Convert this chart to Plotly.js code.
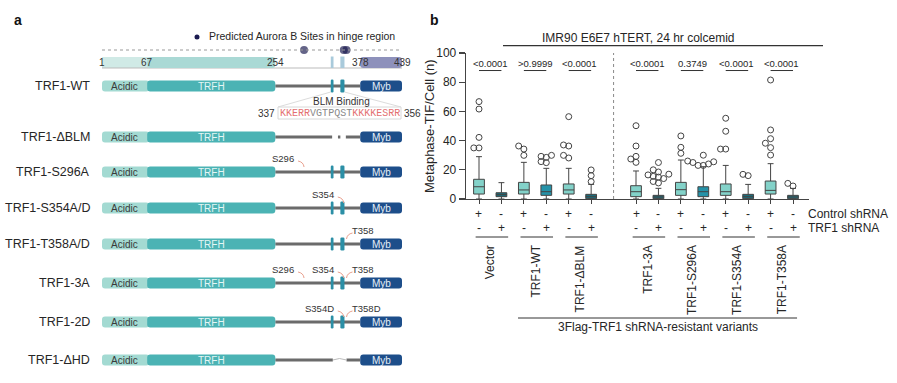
<!DOCTYPE html>
<html><head><meta charset="utf-8">
<script src="https://cdn.plot.ly/plotly-3.0.1.min.js"></script>
<style>html,body{margin:0;padding:0;background:#fff}</style>
</head><body><div id="chart" style="width:897px;height:383px"></div>
<script>
// ================= DATA =================
// ---- Panel a: TRF1 constructs ----
const proteinLength = 439;
const rulerTicks = [1, 67, 254, 378, 439];
const domainNames = ["Acidic", "TRFH", "Myb"];
const domainStart = [1, 67, 378];
const domainEnd = [67, 254, 439];
const hingeMotifStart = [335, 349];
const hingeMotifEnd = [339, 355];
const auroraSites = [296, 354, 358];
const blmRange = [337, 356];
const blmSequence = "KKERRVGTPQSTKKKKESRR";
const blmBasicRuns = [[0, 5], [12, 20]];
const constructs = ["TRF1-WT", "TRF1-ΔBLM", "TRF1-S296A", "TRF1-S354A/D", "TRF1-T358A/D", "TRF1-3A", "TRF1-2D", "TRF1-ΔHD"];
const constructDeletion = [null, [337, 356], null, null, null, null, null, [338, 357]];
const mutationSites = [[], [], [296], [354], [358], [296, 354, 358], [354, 358], []];
const mutationLabels = [[], [], ["S296"], ["S354"], ["T358"], ["S296", "S354", "T358"], ["S354D", "T358D"], []];

// ---- Panel b: Metaphase-TIF per cell ----
const groups = ["Vector", "TRF1-WT", "TRF1-ΔBLM", "TRF1-3A", "TRF1-S296A", "TRF1-S354A", "TRF1-T358A"];
const pValues = ["<0.0001", ">0.9999", "<0.0001", "<0.0001", "0.3749", "<0.0001", "<0.0001"];
const controlShRNA = ["+", "-", "+", "-", "+", "-", "+", "-", "+", "-", "+", "-", "+", "-"];
const trf1ShRNA = ["-", "+", "-", "+", "-", "+", "-", "+", "-", "+", "-", "+", "-", "+"];
const q1 = [3.4, 1.6, 3.4, 2.5, 3.4, 0.2, 1.6, 0.2, 2.5, 1.6, 2.5, 0.2, 3.4, 0.2];
const median = [8.4, 3.0, 6.2, 5.0, 6.2, 1.6, 5.0, 1.4, 6.4, 5.0, 5.0, 1.6, 5.9, 1.4];
const q3 = [13.5, 4.3, 11.4, 9.6, 10.3, 3.2, 9.1, 2.5, 11.4, 8.4, 10.3, 3.2, 12.3, 2.5];
const lowerFence = [0, 0, 0, 0, 0, 0, 0, 0, 0, 0, 0, 0, 0, 0];
const upperFence = [29, 11.2, 25.1, 21, 21, 10, 19.2, 7.3, 26.7, 22.1, 23, 10, 24.2, 7.3];
const outliers = [
  [66.7, 61.6, 42.2, 35, 35],
  [],
  [36.3, 34.2, 29.9],
  [29.9, 28.5, 29.2, 24.9, 25.6],
  [56.4, 36.3, 37, 28.1, 29.9],
  [19.9, 16, 11.9],
  [50.2, 36.3, 29.2, 25.1, 27.4],
  [25, 20, 18.5, 17, 16.5, 15.5, 15, 14, 12, 11],
  [43.2, 35.4, 31.3],
  [30, 26, 25.5, 23, 23, 24, 25],
  [55.3, 46.4, 34.2, 34.2],
  [16, 16.9],
  [81.5, 47.3, 41.3, 38.2, 35.2, 30.1],
  [8.9, 10.7]
];

// ================= LAYOUT / STYLE =================
const W = 897, H = 383;
const FONT = "Liberation Sans, Arial, sans-serif";
const MONO = "Liberation Mono, Courier New, monospace";
const TXT = "#262626";
const px = p => p / W, py = p => 1 - p / H;

// panel a geometry (y2 axis is in pixel units)
const diagL = 102, diagR = 402;
const aaPerPx = (proteinLength - 1) / (diagR - diagL);
const aa2px = a => diagL + (a - 1) / aaPerPx;
const rulerLineY = 50, rulerBarY = 62.5, rulerBarH = 11;
const rowY = [86, 137, 172, 208, 244, 283, 322, 360];
const barH = 11, motifH = 13, linkerW = 3;
const domainFill = ["#a3dad2", "#4bb3b4", "#1d4e8a"];
const domainText = ["#3a3a3a", "#e4f6f5", "#e6eef8"];
const rulerFill = ["#d0eae6", "#aad9d5", "#8e91bb"];
const motifFill = "#2b8fa6", rulerMotifFill = "#a9cadb";
const linkerColor = "#6b6b6b";

// panel b geometry
const plotL = 466, plotR = 809, plotT = 53, plotB = 199;
const slotX0 = 479, slotStep = 22.43;
const xr = [(plotL - slotX0) / slotStep, (plotR - slotX0) / slotStep];
const gapAfterGroup = 2; // a blank slot after 3rd group
const groupSlot = g => g * 2 + (g > gapAfterGroup ? 1 : 0);
const boxSlot = i => groupSlot(Math.floor(i / 2)) + (i % 2);
const ctrlFill = "#83d2c9";
const shFill = ["#1c6b79", "#2592a8", "#1c6b79", "#1c6b79", "#2592a8", "#1c6b79", "#1c6b79"];
const edge = "#444";

function rrect(x0, x1, yc, h, rPx) {
  const rx = rPx * aaPerPx, ry = Math.min(rPx, h / 2);
  const y0 = yc - h / 2, y1 = yc + h / 2;
  return `M${x0 + rx},${y0} L${x1 - rx},${y0} Q${x1},${y0} ${x1},${y0 + ry} L${x1},${y1 - ry} Q${x1},${y1} ${x1 - rx},${y1} L${x0 + rx},${y1} Q${x0},${y1} ${x0},${y1 - ry} L${x0},${y0 + ry} Q${x0},${y0} ${x0 + rx},${y0} Z`;
}

const shapes = [], annotations = [];
const ann = (o) => annotations.push(Object.assign({showarrow: false, font: {family: FONT, size: 12, color: TXT}}, o));

// ---------- Panel a ----------
ann({text: "<b>a</b>", xref: "paper", yref: "paper", x: px(12), y: py(20), xanchor: "left", yanchor: "middle", font: {family: FONT, size: 14, color: "#111"}});
ann({text: "<b>b</b>", xref: "paper", yref: "paper", x: px(428), y: py(20), xanchor: "left", yanchor: "middle", font: {family: FONT, size: 14, color: "#111"}});
ann({text: "Predicted Aurora B Sites in hinge region", xref: "paper", yref: "paper", x: px(207), y: py(36), xanchor: "left", yanchor: "middle", font: {family: FONT, size: 10.5, color: TXT}});

// ruler
shapes.push({type: "line", xref: "x2", yref: "y2", x0: 1, x1: proteinLength, y0: rulerLineY, y1: rulerLineY, line: {color: "#999", width: 1, dash: "dot"}});
shapes.push({type: "line", xref: "x2", yref: "y2", x0: 1, x1: proteinLength, y0: rulerBarY + rulerBarH / 2, y1: rulerBarY + rulerBarH / 2, line: {color: "#bbb", width: 1}});
for (let d = 0; d < 3; d++) {
  const r = d === 0 ? 0.5 : 3;
  shapes.push({type: "path", xref: "x2", yref: "y2", path: rrect(domainStart[d], domainEnd[d] + (d === 0 ? 2 : 0), rulerBarY, rulerBarH, r), fillcolor: rulerFill[d], line: {width: 0}, layer: d === 0 ? "below" : "above"});
}
for (let m = 0; m < hingeMotifStart.length; m++) {
  shapes.push({type: "rect", xref: "x2", yref: "y2", x0: hingeMotifStart[m], x1: hingeMotifEnd[m], y0: rulerBarY - rulerBarH / 2 - 0.5, y1: rulerBarY + rulerBarH / 2, fillcolor: rulerMotifFill, line: {width: 0}});
}
rulerTicks.forEach(t => ann({text: String(t), xref: "x2", yref: "y2", x: t, y: rulerBarY, xanchor: "center", yanchor: "middle", font: {family: FONT, size: 10, color: "#333"}}));

// constructs
constructs.forEach((name, r) => {
  const y = rowY[r];
  ann({text: name, xref: "paper", yref: "y2", x: px(92), y: y, xanchor: "right", yanchor: "middle", font: {family: FONT, size: 12.5, color: TXT}});
  const del = constructDeletion[r];
  const segs = del ? [[domainEnd[1], del[0]], [del[1] + 1, domainStart[2]]] : [[domainEnd[1], domainStart[2]]];
  segs.forEach(s => shapes.push({type: "line", xref: "x2", yref: "y2", x0: s[0], x1: s[1], y0: y, y1: y, line: {color: linkerColor, width: linkerW}, layer: "below"}));
  if (del && r === 1) {
    const mid = (del[0] + del[1]) / 2;
    shapes.push({type: "line", xref: "x2", yref: "y2", x0: mid - 1, x1: mid + 2.5, y0: y, y1: y, line: {color: linkerColor, width: linkerW}});
  }
  if (del && r === 7) {
    shapes.push({type: "path", xref: "x2", yref: "y2", path: `M${del[0]},${y} Q${(del[0] + del[1]) / 2},${y - 3} ${del[1] + 1},${y}`, line: {color: "#bbb", width: 1}});
  }
  for (let d = 0; d < 3; d++) {
    shapes.push({type: "path", xref: "x2", yref: "y2", path: rrect(domainStart[d], domainEnd[d] + (d === 0 ? 3 : 0), y, barH, 3), fillcolor: domainFill[d], line: {width: 0}});
    ann({text: domainNames[d], xref: "x2", yref: "y2", x: (domainStart[d] + domainEnd[d]) / 2, y: y, xanchor: "center", yanchor: "middle", font: {family: FONT, size: 10, color: domainText[d]}});
  }
  if (!del) {
    for (let m = 0; m < hingeMotifStart.length; m++) {
      shapes.push({type: "path", xref: "x2", yref: "y2", path: rrect(hingeMotifStart[m], hingeMotifEnd[m], y, motifH, 1.2), fillcolor: motifFill, line: {width: 0}});
    }
  }
  mutationSites[r].forEach((s, k) => {
    const lab = mutationLabels[r][k];
    const right = lab[0] === "T";
    const dxAA = (right ? 6 : -6) * aaPerPx;
    shapes.push({type: "path", xref: "x2", yref: "y2", path: `M${s},${y - 5} Q${s + dxAA * 0.1},${y - 10} ${s + dxAA},${y - 11}`, line: {color: "#e9a08e", width: 1}});
    ann({text: lab, xref: "x2", yref: "y2", x: s, y: y - 14, xanchor: right ? "left" : "right", xshift: right ? 3 : -8, yanchor: "middle", font: {family: FONT, size: 9.5, color: "#333"}});
  });
});

// BLM callout
const calloutL = 278, calloutR = 401, calloutY = 113;
shapes.push({type: "line", xref: "paper", yref: "paper", x0: px(aa2px(hingeMotifStart[0])), y0: py(rowY[0] + 6), x1: px(calloutL), y1: py(calloutY - 6), line: {color: "#dcdcdc", width: 1}});
shapes.push({type: "line", xref: "paper", yref: "paper", x0: px(aa2px(hingeMotifEnd[1])), y0: py(rowY[0] + 6), x1: px(calloutR), y1: py(calloutY - 6), line: {color: "#dcdcdc", width: 1}});
shapes.push({type: "rect", xref: "paper", yref: "paper", x0: px(calloutL), x1: px(calloutR), y0: py(calloutY - 6), y1: py(calloutY + 6), line: {color: "#d8d8d8", width: 1}, fillcolor: "rgba(255,255,255,0.9)"});
ann({text: "BLM Binding", xref: "paper", yref: "paper", x: px((calloutL + calloutR) / 2 + 2), y: py(101), xanchor: "center", yanchor: "middle", font: {family: FONT, size: 10, color: "#333"}});
let seqHtml = "";
for (let i = 0; i < blmSequence.length; i++) {
  const red = blmBasicRuns.some(rn => i >= rn[0] && i < rn[1]);
  seqHtml += `<span style="color:${red ? "#e46f70" : "#8a8a8a"}">${blmSequence[i]}</span>`;
}
ann({text: seqHtml, xref: "paper", yref: "paper", x: px((calloutL + calloutR) / 2), y: py(calloutY), xanchor: "center", yanchor: "middle", font: {family: MONO, size: 10, color: "#888"}});
ann({text: String(blmRange[0]), xref: "paper", yref: "paper", x: px(calloutL - 1), y: py(calloutY), xanchor: "right", yanchor: "middle", font: {family: FONT, size: 10, color: "#333"}});
ann({text: String(blmRange[1]), xref: "paper", yref: "paper", x: px(calloutR + 1), y: py(calloutY), xanchor: "left", yanchor: "middle", font: {family: FONT, size: 10, color: "#333"}});

// ---------- Panel b ----------
const traces = [];
for (let i = 0; i < q1.length; i++) {
  const g = Math.floor(i / 2);
  traces.push({
    type: "box", x: [boxSlot(i)], q1: [q1[i]], median: [median[i]], q3: [q3[i]],
    lowerfence: [lowerFence[i]], upperfence: [upperFence[i]],
    width: 0.48, whiskerwidth: 0.55, boxpoints: false,
    fillcolor: i % 2 === 0 ? ctrlFill : shFill[g],
    line: {color: edge, width: 1}, xaxis: "x", yaxis: "y", showlegend: false, hoverinfo: "skip"
  });
}
const pxPerSlot = slotStep, pxPerUnit = (plotB - plotT) / 100;
function swarm(vals) {
  const placed = [], off = new Array(vals.length).fill(0);
  const order = vals.map((v, i) => ({v, i})).sort((a, b) => a.v - b.v);
  const d = 5.0, step = 5.2;
  for (const p of order) {
    for (let k = 0; k < 30; k++) {
      const m = k === 0 ? 0 : (k % 2 ? -Math.ceil(k / 2) : Math.ceil(k / 2));
      const dx = m * step;
      if (placed.every(q => Math.hypot(q.dx - dx, (q.v - p.v) * pxPerUnit) >= d)) {
        placed.push({dx, v: p.v}); off[p.i] = dx / pxPerSlot; break;
      }
    }
  }
  return off;
}
const ox = [], oy = [];
outliers.forEach((vals, i) => {
  const off = swarm(vals);
  vals.forEach((v, k) => { ox.push(boxSlot(i) + off[k]); oy.push(v); });
});
traces.push({type: "scatter", mode: "markers", x: ox, y: oy, xaxis: "x", yaxis: "y", cliponaxis: false,
  marker: {symbol: "circle-open", size: 6, color: edge, line: {width: 1, color: edge}}, showlegend: false, hoverinfo: "skip"});
traces.push({type: "scatter", mode: "markers", x: auroraSites, y: auroraSites.map(() => rulerLineY), xaxis: "x2", yaxis: "y2", cliponaxis: false,
  marker: {size: 8, color: "rgba(26,26,80,0.68)", line: {width: 0}}, showlegend: false, hoverinfo: "skip"});
traces.push({type: "scatter", mode: "markers", x: [0], y: [0], xaxis: "x3", yaxis: "y3", marker: {size: 5, color: "#1a1a50"}, showlegend: false, hoverinfo: "skip"});

ann({text: "IMR90 E6E7 hTERT, 24 hr colcemid", xref: "paper", yref: "paper", x: px(638), y: py(38), xanchor: "center", yanchor: "middle", font: {family: FONT, size: 12, color: TXT}});
shapes.push({type: "line", xref: "paper", yref: "paper", x0: px(503), x1: px(823), y0: py(45.7), y1: py(45.7), line: {color: "#333", width: 1.3}});
shapes.push({type: "line", xref: "x", yref: "y", x0: groupSlot(gapAfterGroup) + 2, x1: groupSlot(gapAfterGroup) + 2, y0: 0, y1: 100, line: {color: "#888", width: 1, dash: "dot"}});
const pY = 88;
groups.forEach((gname, g) => {
  const s = groupSlot(g);
  shapes.push({type: "line", xref: "x", yref: "y", x0: s, x1: s + 1, y0: pY, y1: pY, line: {color: "#333", width: 1}});
  ann({text: pValues[g], xref: "x", yref: "y", x: s + 0.5, y: pY, xanchor: "center", yanchor: "bottom", font: {family: FONT, size: 9.5, color: TXT}});
  shapes.push({type: "line", xref: "x", yref: "paper", x0: s - 0.15, x1: s + 1.3, y0: py(237), y1: py(237), line: {color: "#333", width: 1}});
  ann({text: gname, xref: "x", yref: "paper", x: s + 0.5, y: py(243), xanchor: "center", yanchor: "top", textangle: -90, font: {family: FONT, size: 12, color: TXT}});
});
for (let i = 0; i < controlShRNA.length; i++) {
  ann({text: controlShRNA[i], xref: "x", yref: "paper", x: boxSlot(i), y: py(214), xanchor: "center", yanchor: "middle", font: {family: FONT, size: 12, color: TXT}});
  ann({text: trf1ShRNA[i], xref: "x", yref: "paper", x: boxSlot(i), y: py(228), xanchor: "center", yanchor: "middle", font: {family: FONT, size: 12, color: TXT}});
}
ann({text: "Control shRNA", xref: "paper", yref: "paper", x: px(806), y: py(214), xanchor: "left", yanchor: "middle"});
ann({text: "TRF1 shRNA", xref: "paper", yref: "paper", x: px(806), y: py(228), xanchor: "left", yanchor: "middle"});
shapes.push({type: "line", xref: "x", yref: "paper", x0: groupSlot(1) - 0.26, x1: groupSlot(groups.length - 1) + 1.18, y0: py(318), y1: py(318), line: {color: "#333", width: 1}});
ann({text: "3Flag-TRF1 shRNA-resistant variants", xref: "paper", yref: "paper", x: px(658), y: py(327), xanchor: "center", yanchor: "middle"});
ann({text: "Metaphase-TIF/Cell (n)", xref: "paper", yref: "paper", x: px(430), y: py((plotT + plotB) / 2), xanchor: "center", yanchor: "middle", textangle: -90, font: {family: FONT, size: 13, color: TXT}});

const layout = {
  width: W, height: H, margin: {l: 0, r: 0, t: 0, b: 0}, paper_bgcolor: "#fff", plot_bgcolor: "rgba(0,0,0,0)",
  showlegend: false, font: {family: FONT, color: TXT},
  xaxis: {domain: [px(plotL), px(plotR)], range: xr, type: "linear", showline: true, linecolor: edge, linewidth: 1.3,
    ticks: "outside", ticklen: 4, tickwidth: 1, tickcolor: edge, tickvals: q1.map((_, i) => boxSlot(i)), showticklabels: false,
    showgrid: false, zeroline: false, fixedrange: true, anchor: "y"},
  yaxis: {domain: [py(plotB), py(plotT)], range: [0, 100], showline: true, linecolor: edge, linewidth: 1.3,
    ticks: "outside", ticklen: 6, tickwidth: 1.3, tickcolor: edge, tickvals: [0, 20, 40, 60, 80, 100],
    tickfont: {family: FONT, size: 12, color: TXT}, showgrid: false, zeroline: false, anchor: "x"},
  xaxis2: {domain: [px(diagL), px(diagR)], range: [1, proteinLength], visible: false, anchor: "y2"},
  yaxis2: {domain: [0, 1], range: [H, 0], visible: false, anchor: "x2"},
  xaxis3: {domain: [px(192), px(202)], range: [-1, 1], visible: false, anchor: "y3"},
  yaxis3: {domain: [py(42), py(32)], range: [-1, 1], visible: false, anchor: "x3"},
  shapes: shapes, annotations: annotations
};
Plotly.newPlot("chart", traces, layout, {staticPlot: true, displayModeBar: false});
</script></body></html>
